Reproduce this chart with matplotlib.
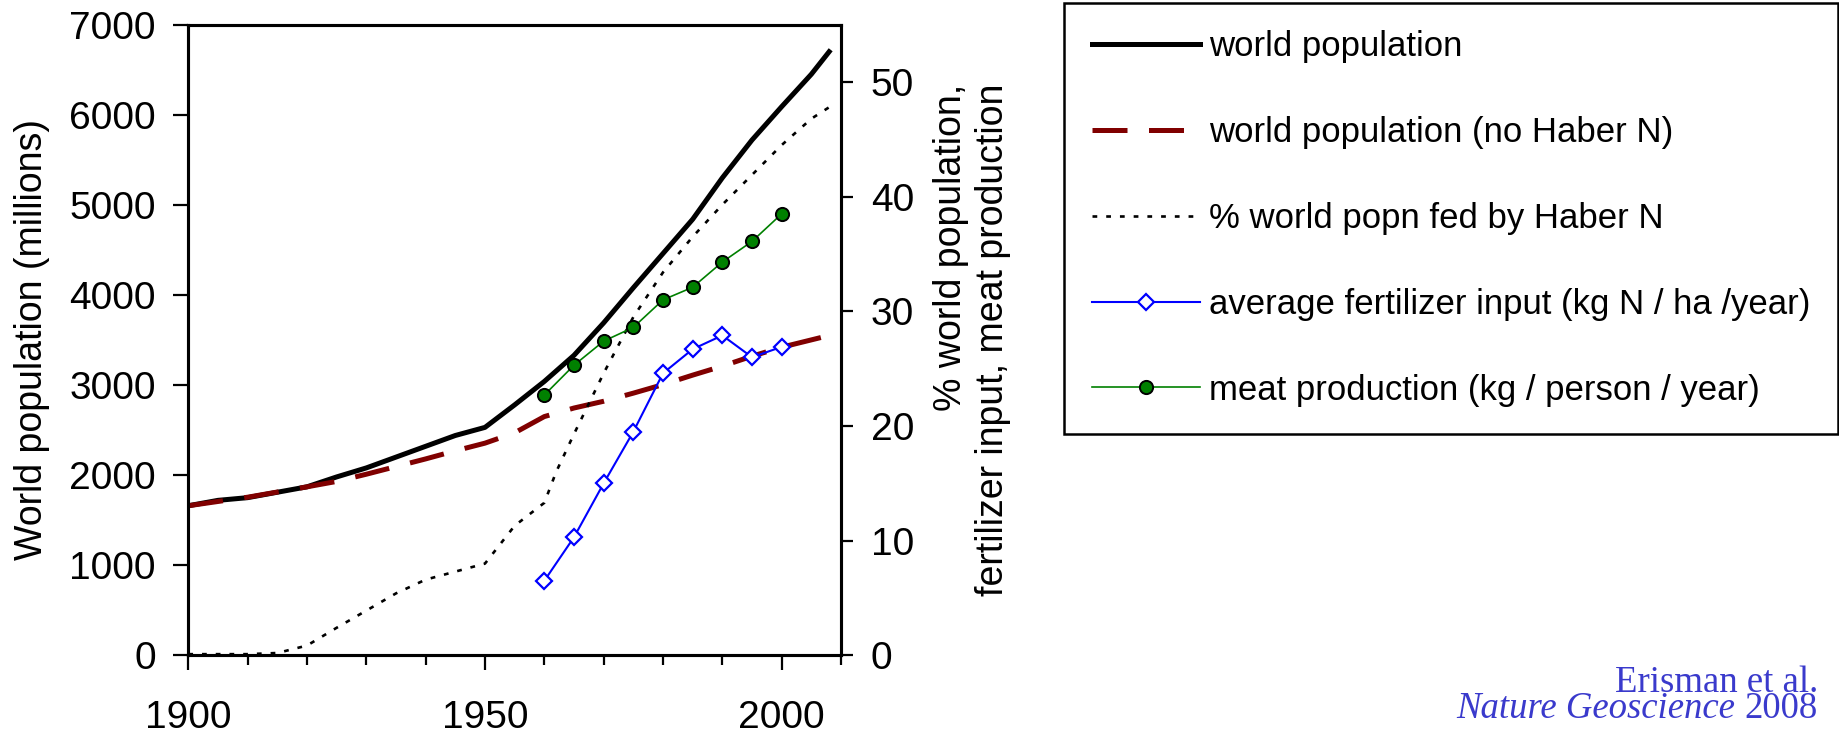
#!/usr/bin/env python3
"""World population vs. Haber-Bosch nitrogen (after Erisman et al. 2008)."""
import matplotlib

matplotlib.use("Agg")
import matplotlib.pyplot as plt
from matplotlib.ticker import MultipleLocator

plt.rcParams["font.family"] = ["Liberation Sans", "DejaVu Sans"]

# left axis: world population (millions)
YEARS_POP = [1900, 1905, 1910, 1920, 1925, 1930, 1935, 1940, 1945, 1950, 1955, 1960,
             1965, 1970, 1975, 1980, 1985, 1990, 1995, 2000, 2005, 2008]
POP = [1660, 1720, 1750, 1870, 1980, 2080, 2200, 2320, 2440, 2530, 2780, 3040,
       3330, 3690, 4080, 4460, 4840, 5300, 5720, 6090, 6450, 6700]

YEARS_NOH = [1900, 1910, 1920, 1925, 1930, 1935, 1940, 1945, 1950, 1955, 1960,
             1965, 1970, 1975, 1980, 1985, 1990, 1995, 2000, 2008]
POP_NOH = [1660, 1755, 1870, 1930, 2010, 2095, 2180, 2270, 2355, 2470, 2650,
           2745, 2820, 2910, 3005, 3110, 3210, 3320, 3420, 3550]

# right axis
YEARS_FED = [1900, 1910, 1915, 1920, 1925, 1930, 1935, 1940, 1945, 1950, 1955, 1957,
             1960, 1962, 1965, 1970, 1975, 1980, 1985, 1990, 1995, 2000, 2005, 2008]
PCT_FED = [0.1, 0.1, 0.2, 0.85, 2.4, 3.9, 5.4, 6.6, 7.3, 8.0, 11.3, 12.1,
           13.3, 16.0, 19.3, 24.6, 29.5, 33.4, 36.5, 39.3, 41.9, 44.5, 46.8, 47.8]

YEARS_FERT = [1960, 1965, 1970, 1975, 1980, 1985, 1990, 1995, 2000]
FERT = [6.5, 10.3, 15.0, 19.5, 24.6, 26.7, 27.9, 26.0, 26.9]

YEARS_MEAT = [1960, 1965, 1970, 1975, 1980, 1985, 1990, 1995, 2000]
MEAT = [22.7, 25.3, 27.4, 28.6, 31.0, 32.1, 34.3, 36.1, 38.5]

LABELS = [
    "world population",
    "world population (no Haber N)",
    "% world popn fed by Haber N",
    "average fertilizer input (kg N / ha /year)",
    "meat production (kg / person / year)",
]

W, H = 1840, 734
fig = plt.figure(figsize=(W / 100, H / 100), dpi=100)
ax = fig.add_axes([188.3 / W, 1 - 655.3 / H, (841 - 188.3) / W, (655.3 - 24.7) / H])
ax2 = ax.twinx()

h1, = ax.plot(YEARS_POP, POP, color="black", lw=3.6, label=LABELS[0])
h2, = ax.plot(YEARS_NOH, POP_NOH, color="#800000", lw=3.6, dashes=(7, 4.3), label=LABELS[1])
h3, = ax2.plot(YEARS_FED, PCT_FED, color="black", lw=1.9, dashes=(1.8, 3.4), label=LABELS[2])
h4, = ax2.plot(YEARS_FERT, FERT, color="#0000ff", lw=1.5, marker="D", ms=8.5,
               mfc="white", mec="#0000ff", mew=1.6, label=LABELS[3])
h5, = ax2.plot(YEARS_MEAT, MEAT, color="#008000", lw=1.2, marker="o", ms=9.5,
               mfc="#008000", mec="black", mew=1.4, label=LABELS[4])

ax.set_xlim(1900, 2010)
ax.set_ylim(0, 7000)
ax2.set_ylim(0, 55)
ax.set_xticks([1900, 1950, 2000])
ax.xaxis.set_minor_locator(MultipleLocator(10))
ax.set_yticks(range(0, 7001, 1000))
ax2.set_yticks(range(0, 51, 10))

for a in (ax, ax2):
    for s in a.spines.values():
        s.set_linewidth(2.2)
ax.tick_params(axis="y", direction="out", length=11, width=1.6, pad=12.5, labelsize=28)
ax.tick_params(axis="x", which="major", direction="out", length=10.5, width=1.6, pad=22, labelsize=28)
ax.tick_params(axis="x", which="minor", direction="out", length=7, width=1.6)
ax2.tick_params(axis="y", direction="out", length=8.5, width=1.6, pad=13, labelsize=28)

ax.set_ylabel("World population (millions)", fontsize=27)
ax.yaxis.set_label_coords(-0.2119, 0.5)
ax2.set_ylabel("% world population,\nfertilizer input, meat production", fontsize=27,
               multialignment="right")
ax2.yaxis.set_label_coords(1.141, 0.5)

leg = fig.legend([h1, h2, h3, h4, h5], LABELS, loc="upper right",
                 bbox_to_anchor=(1838 / W, 1 - 2.7 / H), fontsize=25,
                 handlelength=3.1, handletextpad=0.26, borderpad=0.8,
                 labelspacing=1.52, borderaxespad=0, fancybox=False,
                 framealpha=1, edgecolor="black")
leg.get_frame().set_linewidth(1.8)

# citation
cite = dict(family=["Liberation Serif", "DejaVu Serif"], fontsize=26.5, color="#3a3acc",
            va="baseline")
fig.text(1818 / W, 1 - 691.7 / H, "Erisman et al.", ha="right", **cite)
t_year = fig.text(1818 / W, 1 - 718.3 / H, "2008", ha="right", **cite)
fig.canvas.draw()
x0 = t_year.get_window_extent().x0 - 9.2
fig.text(x0 / W, 1 - 718.3 / H, "Nature Geoscience", ha="right", style="italic", **cite)

fig.savefig("out.png", dpi=100)
